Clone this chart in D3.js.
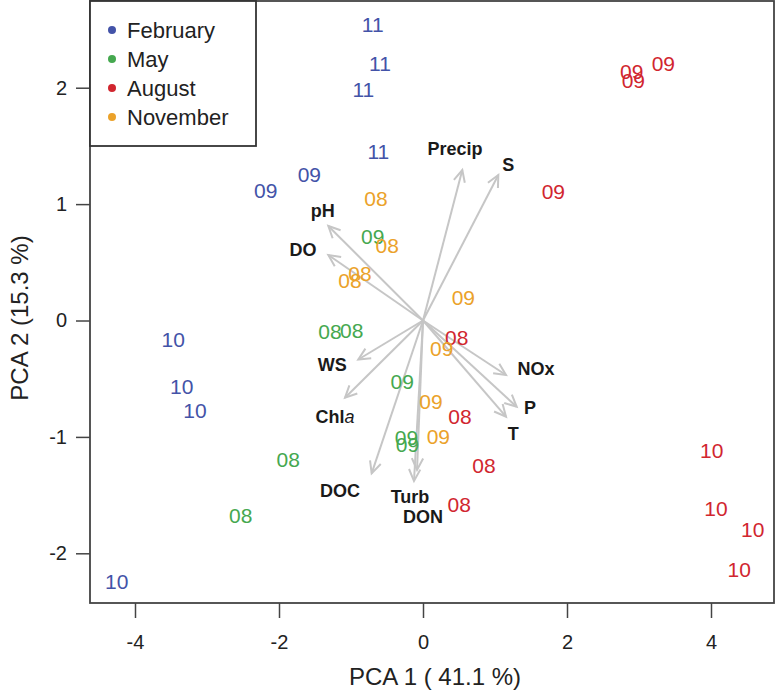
<!DOCTYPE html>
<html>
<head>
<meta charset="utf-8">
<script src="https://cdn.jsdelivr.net/npm/d3@7"></script>
<style>
  html, body { margin: 0; padding: 0; background: #fff; }
  svg { display: block; font-family: "Liberation Sans", Arial, Helvetica, sans-serif; }
</style>
</head>
<body>
<svg id="chart" width="779" height="691"></svg>
<script>
// ---- data ----
const months = ["February", "May", "August", "November"];
const monthColors = ["#4353a8", "#45a84f", "#d1262f", "#eba22a"];

// sample scores: [PCA1, PCA2, label]
const februaryPts = [
  [-0.699, 2.547, "11"], [-0.597, 2.21, "11"], [-0.829, 1.986, "11"], [-0.621, 1.45, "11"],
  [-2.185, 1.115, "09"], [-1.579, 1.259, "09"],
  [-3.468, -0.162, "10"], [-3.351, -0.563, "10"], [-3.167, -0.769, "10"], [-4.254, -2.244, "10"]
];
const mayPts = [
  [-0.699, 0.72, "09"], [-0.288, -0.52, "09"], [-0.229, -1.001, "09"], [-0.215, -1.061, "09"],
  [-1.292, -0.096, "08"], [-0.99, -0.082, "08"], [-1.871, -1.19, "08"], [-2.532, -1.677, "08"]
];
const augustPts = [
  [2.899, 2.137, "09"], [2.921, 2.066, "09"], [3.338, 2.21, "09"], [1.81, 1.107, "09"],
  [0.468, -0.144, "08"], [0.514, -0.826, "08"], [0.847, -1.241, "08"], [0.504, -1.576, "08"],
  [4.01, -1.113, "10"], [4.069, -1.613, "10"], [4.579, -1.791, "10"], [4.393, -2.137, "10"]
];
const novemberPts = [
  [-0.653, 1.05, "08"], [-0.496, 0.649, "08"], [-1.014, 0.348, "08"], [-0.875, 0.408, "08"],
  [0.56, 0.196, "09"], [0.26, -0.239, "09"], [0.111, -0.698, "09"], [0.213, -0.998, "09"]
];
const seriesPts = [februaryPts, mayPts, augustPts, novemberPts];

// variable loadings (arrow tips) and label anchor positions
const variables = ["Precip", "S", "pH", "DO", "WS", "Chla", "DOC", "Turb", "DON", "NOx", "P", "T"];
const arrowX = [0.546, 1.046, -1.315, -1.315, -0.899, -1.083, -0.713, -0.083, -0.125, 1.153, 1.301, 1.153];
const arrowY = [1.293, 1.25, 0.812, 0.563, -0.335, -0.663, -1.313, -1.284, -1.379, -0.468, -0.741, -0.826];
const labelX = [0.444, 1.185, -1.393, -1.667, -1.26, -1.222, -1.153, -0.181, 0.0, 1.569, 1.486, 1.254];
const labelY = [1.479, 1.336, 0.943, 0.606, -0.382, -0.826, -1.462, -1.514, -1.688, -0.411, -0.746, -0.975];

const xTicks = [-4, -2, 0, 2, 4];
const yTicks = [-2, -1, 0, 1, 2];
const xTitle = "PCA 1 ( 41.1 %)";
const yTitle = "PCA 2 (15.3 %)";

// ---- layout ----
const L = 90, R = 774, T = 1, B = 603;
const x = d3.scaleLinear().domain([-4.625, 4.875]).range([L, R]);
const y = d3.scaleLinear().domain([-2.427, 2.745]).range([B, T]);

const svg = d3.select("#chart");

// axes
const xAxis = svg.append("g").attr("transform", `translate(0,${B})`)
  .call(d3.axisBottom(x).tickValues(xTicks).tickSize(15).tickPadding(17).tickFormat(d => String(d)));
xAxis.select(".domain").remove();
xAxis.selectAll("line").attr("stroke", "#444").attr("stroke-width", 1.5);
xAxis.selectAll("text").attr("font-size", 20).attr("fill", "#222").attr("font-family", null);

const yAxis = svg.append("g").attr("transform", `translate(${L},0)`)
  .call(d3.axisLeft(y).tickValues(yTicks).tickSize(14).tickPadding(9).tickFormat(d => String(d)));
yAxis.select(".domain").remove();
yAxis.selectAll("line").attr("stroke", "#444").attr("stroke-width", 1.5);
yAxis.selectAll("text").attr("font-size", 20).attr("fill", "#222").attr("font-family", null);

// titles
svg.append("text").attr("x", (L + R) / 2 + 3).attr("y", 685).attr("text-anchor", "middle")
  .attr("font-size", 24).attr("fill", "#222").text(xTitle);
svg.append("text").attr("transform", `translate(28,${(T + B) / 2 + 16}) rotate(-90)`)
  .attr("text-anchor", "middle").attr("font-size", 24).attr("fill", "#222").text(yTitle);

// arrows
const ox = x(0), oy = y(0);
const arrows = svg.append("g").attr("stroke", "#c6c6c6").attr("stroke-width", 2).attr("fill", "none");
variables.forEach((v, i) => {
  const tx = x(arrowX[i]), ty = y(arrowY[i]);
  arrows.append("line").attr("x1", ox).attr("y1", oy).attr("x2", tx).attr("y2", ty);
  const ang = Math.atan2(ty - oy, tx - ox);
  const hl = 13, ha = Math.PI / 7;
  const p1 = [tx - hl * Math.cos(ang - ha), ty - hl * Math.sin(ang - ha)];
  const p2 = [tx - hl * Math.cos(ang + ha), ty - hl * Math.sin(ang + ha)];
  arrows.append("path").attr("d", `M${p1[0]},${p1[1]}L${tx},${ty}L${p2[0]},${p2[1]}`);
});

// point labels
seriesPts.forEach((pts, si) => {
  svg.append("g").selectAll("text").data(pts).join("text")
    .attr("x", d => x(d[0])).attr("y", d => y(d[1])).attr("dy", "0.36em")
    .attr("text-anchor", "middle").attr("font-size", 21).attr("fill", monthColors[si])
    .text(d => d[2]);
});

// variable labels
variables.forEach((v, i) => {
  const t = svg.append("text").attr("x", x(labelX[i])).attr("y", y(labelY[i])).attr("dy", "0.36em")
    .attr("text-anchor", "middle").attr("font-size", 18).attr("font-weight", "bold").attr("fill", "#1a1a1a");
  if (v === "Chla") {
    t.append("tspan").text("Chl");
    t.append("tspan").attr("font-style", "italic").attr("font-weight", "normal").text("a");
  } else {
    t.text(v);
  }
});

// plot box
svg.append("rect").attr("x", L).attr("y", T).attr("width", R - L).attr("height", B - T)
  .attr("fill", "none").attr("stroke", "#444").attr("stroke-width", 1.8);

// legend
const lg = svg.append("g");
lg.append("rect").attr("x", L).attr("y", T).attr("width", 166).attr("height", 145)
  .attr("fill", "#fff").attr("stroke", "#333").attr("stroke-width", 1.8);
months.forEach((m, i) => {
  const cy = 30 + i * 29;
  lg.append("circle").attr("cx", 112).attr("cy", cy).attr("r", 4).attr("fill", monthColors[i]);
  lg.append("text").attr("x", 127).attr("y", cy).attr("dy", "0.36em").attr("font-size", 22)
    .attr("fill", "#222").text(m);
});
</script>
</body>
</html>
